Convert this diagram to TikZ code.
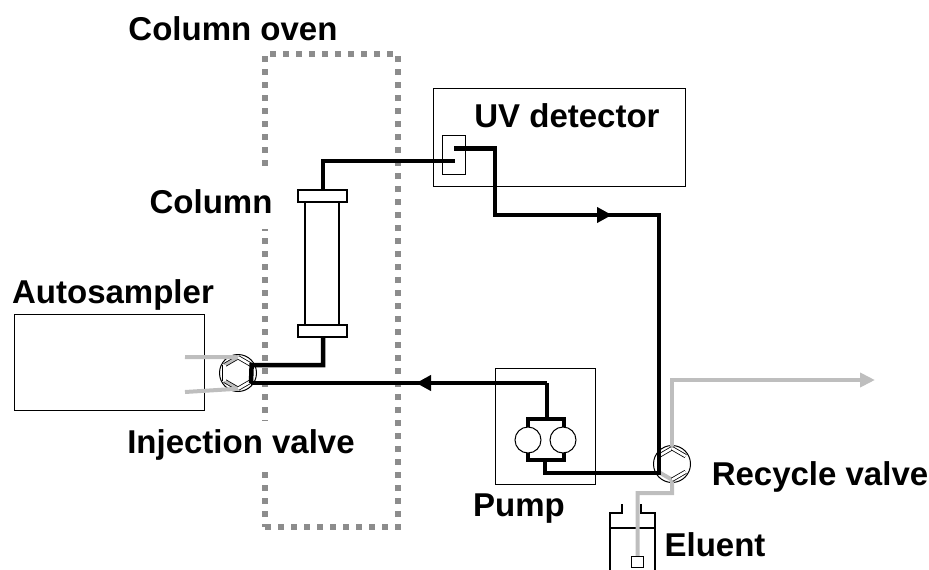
\documentclass[tikz,border=0pt]{standalone}
\usepackage{fontspec}
\setmainfont{Liberation Sans}
\usepackage{xcolor}
\usepackage{tikz}
\usetikzlibrary{arrows.meta,positioning,calc,shapes.geometric}
\definecolor{ovengray}{HTML}{8C8C8C}
\definecolor{wastegray}{HTML}{BEBEBE}

\begin{document}
\begin{tikzpicture}[
  x=1pt, y=-1pt,
  box/.style={draw, line width=1pt, inner sep=0pt},
  lbl/.style={font=\bfseries\fontsize{33}{33}\selectfont, inner sep=1pt, anchor=base},
  blankedlbl/.style={lbl, fill=white},
  pipe/.style={line width=4.5pt, line join=miter},
  wasteline/.style={line width=4pt, color=wastegray},
  ovenline/.style={draw=ovengray, line width=6pt, dash pattern=on 6pt off 7pt},
  pumphead/.style={circle, draw, fill=white, line width=1pt, minimum size=26pt, inner sep=0pt},
  valve/.style={circle, draw, fill=white, line width=1pt, minimum size=37pt, inner sep=0pt},
  hex/.style={regular polygon, regular polygon sides=6, shape border rotate=30, minimum size=31pt, inner sep=0pt},
  chan/.style={line width=.8pt, draw=black, double=white, double distance=2.6pt},
  graychan/.style={chan, double=wastegray},
  colcap/.style={box, fill=white, line width=1.5pt, minimum width=49pt, minimum height=12pt},
  flowtip/.style={-{Triangle[length=15pt,width=15pt]}}
]
\useasboundingbox (0,0) rectangle (929,570);
% column oven
\node[ovenline, minimum width=133pt, minimum height=473pt, inner sep=0pt] (ovenbox) at (331.5,290.5) {};
\node[blankedlbl, inner ysep=16pt] (columnlbl) at (211,213) {Column};
\node[blankedlbl, inner ysep=8pt] (injectlbl) at (241,453) {Injection valve};
\node[lbl] (ovenlbl) at (233,40) {Column oven};
% boxes
\node[box, minimum width=190pt, minimum height=96pt] (sampler) at (109,362) {};
\node[box, minimum width=252pt, minimum height=98pt] (uvbox) at (559,137) {};
\node[box, minimum width=23pt, minimum height=39pt] (cell) at (453.5,154.5) {};
\node[box, minimum width=100pt, minimum height=116pt] (pumpbox) at (545,426) {};
\node[lbl] (samplerlbl) at (113,303) {Autosampler};
\node[lbl] (uvlbl) at (567,127) {UV detector};
\node[lbl] (pumplbl) at (519,516) {Pump};
\node[lbl] (recyclelbl) at (820,485) {Recycle valve};
\node[lbl] (eluentlbl) at (715,556) {Eluent};
% column
\node[box, line width=1.5pt, minimum width=34pt, minimum height=130pt] (tube) at (322,261) {};
\node[colcap] (topcap) at (322.5,196) {};
\node[colcap] (botcap) at (322.5,331) {};
% bottle
\coordinate (neckl) at (622,504);
\coordinate (neckr) at (641,504);
\draw[line width=1.2pt] (neckl) |- (610,513) -- (610,570);
\draw[line width=1.2pt] (neckr) |- (655,513) -- (655,570);
\draw[line width=1.2pt] (610,528) -- (655,528);
% valves
\node[valve] (inject) at (238,373) {};
\node[hex] (injhex) at (inject) {};
\node[valve] (recycle) at (672,464) {};
\node[hex] (rechex) at (recycle) {};
% gray lines
\draw[graychan] (injhex.corner 1) -- (injhex.corner 2);
\draw[graychan] (injhex.corner 3) -- (injhex.corner 4);
\draw[chan] (injhex.corner 1) -- (injhex.corner 6);
\draw[chan] (injhex.corner 4) -- (injhex.corner 5);
\draw[chan] (injhex.corner 2) -- (injhex.corner 3);
\draw[wasteline] (185,357) -- (injhex.corner 1);
\draw[wasteline] (185,392) -- (injhex.corner 4);
\coordinate (wasteend) at (875,380);
\draw[wasteline, -{Triangle[length=15pt,width=14pt]}] (rechex.corner 1) |- (wasteend);
\node[box, minimum size=11.5pt, fill=white] (filter) at (637.5,562) {};
\draw[wasteline] (rechex.corner 3) -- (rechex.corner 4) -- (672,493) -- (637.5,493) -- (filter.north);
\draw[chan] (rechex.corner 2) -- (rechex.corner 1);
\draw[chan] (rechex.corner 1) -- (rechex.corner 6);
\draw[chan] (rechex.corner 4) -- (rechex.corner 5);
% flow path
\coordinate (pipetop) at (323,161);
\coordinate (cellin) at (455,161);
\coordinate (cellout) at (454,148.5);
\coordinate (bendA) at (495,148.5);
\coordinate (bendB) at (495,215);
\coordinate (arrowA) at (612,215);
\coordinate (bendC) at (659,215);
\coordinate (recin) at (659,473);
\coordinate (pumpin) at (547,383);
\coordinate (pumpout) at (545,460);
\coordinate (arrowB) at (416,383);
\coordinate (injin) at (251,383);
\draw[pipe] (topcap.north -| pipetop) -- (pipetop) -- (cellin);
\draw[pipe] (cellout) -- (bendA) -- (bendB) -- (bendC) -- (recin) -- (recin -| pumpout) -- (pumpout);
\draw[pipe, flowtip] (bendB) -- (arrowA);
\draw[pipe] (botcap.south -| pipetop) |- (injhex.corner 6) -- (injin);
\draw[pipe] (injin) -- (pumpin);
\draw[pipe, flowtip] (pumpin) -- (arrowB);
% pump
\draw[pipe] (pumpin) -- (547,419);
\draw[pipe, line width=4pt] (528,430) |- (564,419) -- (564,430);
\draw[pipe, line width=4pt] (528,450) |- (564,460) -- (564,450);
\node[pumphead] (headL) at (528,440) {};
\node[pumphead] (headR) at (563,440) {};
\end{tikzpicture}
\end{document}
